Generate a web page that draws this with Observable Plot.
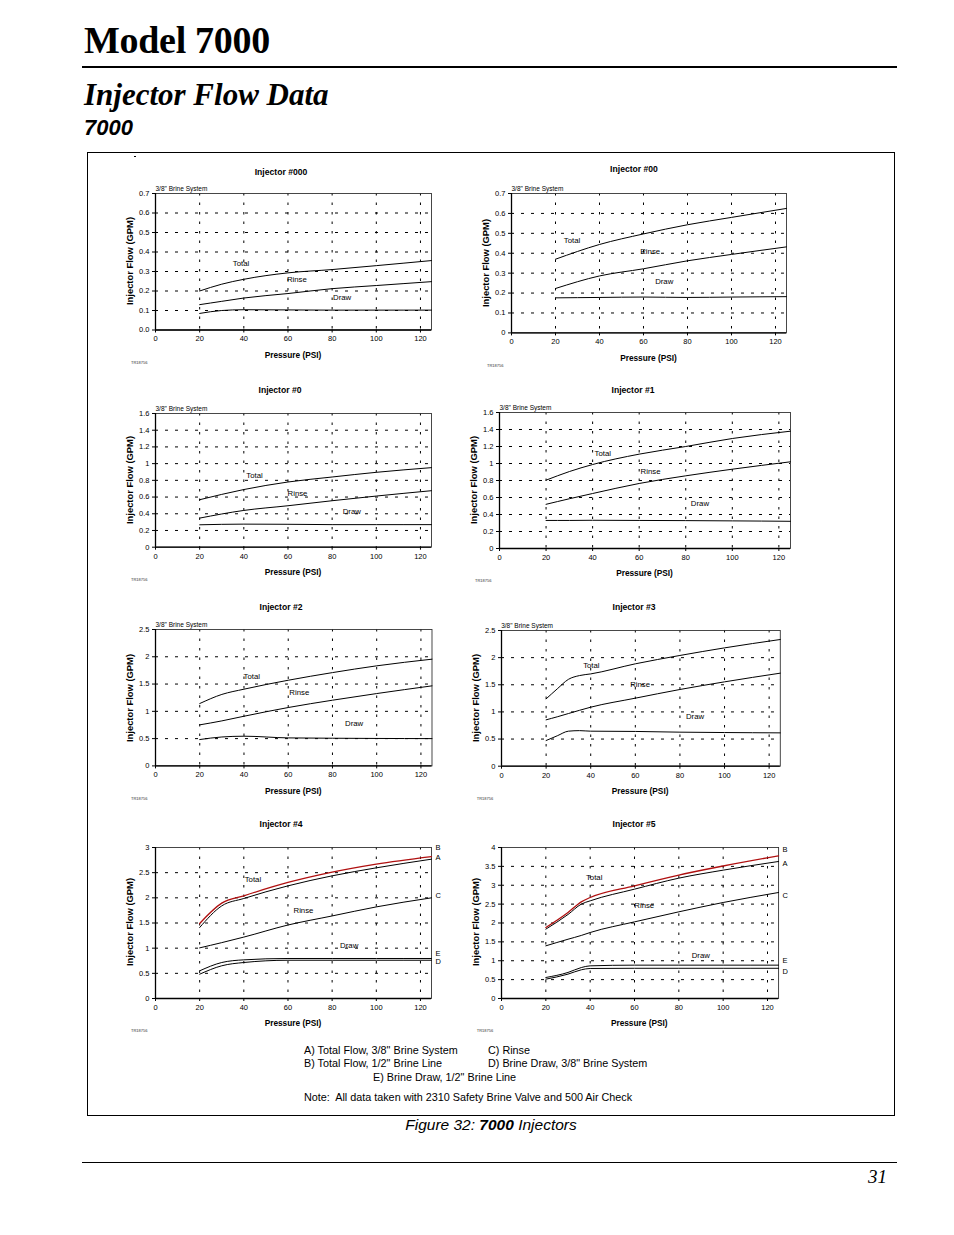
<!DOCTYPE html>
<html><head><meta charset="utf-8">
<script src="https://cdn.jsdelivr.net/npm/d3@7"></script>
<script src="https://cdn.jsdelivr.net/npm/@observablehq/plot@0.6"></script>
<style>
body{margin:0;background:#fff;}
#page{position:relative;width:954px;height:1235px;background:#fff;overflow:hidden;font-family:"Liberation Sans",Arial,sans-serif;color:#000;}
.t{position:absolute;white-space:pre;line-height:1;}
.chart{position:absolute;}
.chart svg{overflow:visible;}
</style></head><body><div id="page"></div>
<script>
// ---------- data ----------
const xTicks = [0, 20, 40, 60, 80, 100, 120];

// Injector #000
const psi000 = [20, 30, 40, 60, 80, 100, 125];
const total000 = [0.200, 0.235, 0.260, 0.293, 0.310, 0.330, 0.356];
const rinse000 = [0.130, 0.147, 0.164, 0.187, 0.212, 0.228, 0.248];
const draw000 = [0.085, 0.100, 0.104, 0.103, 0.102, 0.102, 0.102];
const yTicks000 = [0, 0.1, 0.2, 0.3, 0.4, 0.5, 0.6, 0.7];
const labels000 = [{t: "Total", x: 35, y: 0.34}, {t: "Rinse", x: 59.5, y: 0.257}, {t: "Draw", x: 80.4, y: 0.168}];

// Injector #00
const psi00 = [20, 40, 60, 80, 100, 125];
const total00 = [0.370, 0.444, 0.497, 0.543, 0.580, 0.625];
const rinse00 = [0.223, 0.286, 0.322, 0.362, 0.394, 0.432];
const draw00 = [0.176, 0.178, 0.180, 0.178, 0.180, 0.182];
const yTicks00 = [0, 0.1, 0.2, 0.3, 0.4, 0.5, 0.6, 0.7];
const labels00 = [{t: "Total", x: 23.8, y: 0.466}, {t: "Rinse", x: 58.5, y: 0.407}, {t: "Draw", x: 65.3, y: 0.26}];

// Injector #0
const psi0 = [20, 40, 60, 80, 100, 125];
const total0 = [0.568, 0.690, 0.780, 0.840, 0.896, 0.952];
const rinse0 = [0.348, 0.440, 0.496, 0.556, 0.612, 0.676];
const draw0 = [0.268, 0.276, 0.274, 0.270, 0.270, 0.270];
const yTicks0 = [0, 0.2, 0.4, 0.6, 0.8, 1, 1.2, 1.4, 1.6];
const labels0 = [{t: "Total", x: 41.1, y: 0.86}, {t: "Rinse", x: 59.8, y: 0.64}, {t: "Draw", x: 84.8, y: 0.432}];

// Injector #1
const psi1 = [20, 30, 40, 60, 80, 100, 125];
const total1 = [0.804, 0.905, 0.988, 1.110, 1.200, 1.294, 1.380];
const rinse1 = [0.520, 0.585, 0.647, 0.765, 0.855, 0.933, 1.020];
const draw1 = [0.330, 0.330, 0.332, 0.330, 0.328, 0.325, 0.320];
const yTicks1 = [0, 0.2, 0.4, 0.6, 0.8, 1, 1.2, 1.4, 1.6];
const labels1 = [{t: "Total", x: 40.8, y: 1.118}, {t: "Rinse", x: 60.6, y: 0.91}, {t: "Draw", x: 82.2, y: 0.53}];

// Injector #2
const psi2 = [20, 30, 40, 60, 80, 100, 125];
const total2 = [1.143, 1.310, 1.406, 1.570, 1.710, 1.834, 1.956];
const rinse2 = [0.752, 0.825, 0.910, 1.070, 1.204, 1.326, 1.467];
const draw2 = [0.483, 0.530, 0.544, 0.513, 0.507, 0.503, 0.500];
const yTicks2 = [0, 0.5, 1, 1.5, 2, 2.5];
const labels2 = [{t: "Total", x: 39.8, y: 1.644}, {t: "Rinse", x: 60.5, y: 1.35}, {t: "Draw", x: 85.7, y: 0.776}];

// Injector #3
const psi3 = [20, 25, 30, 35, 40, 60, 80, 100, 125];
const total3 = [1.240, 1.425, 1.600, 1.670, 1.700, 1.886, 2.040, 2.180, 2.334];
const rinse3 = [0.854, 0.910, 0.970, 1.030, 1.087, 1.253, 1.413, 1.554, 1.714];
const draw3 = [0.473, 0.560, 0.645, 0.655, 0.645, 0.640, 0.627, 0.620, 0.614];
const yTicks3 = [0, 0.5, 1, 1.5, 2, 2.5];
const labels3 = [{t: "Total", x: 36.6, y: 1.85}, {t: "Rinse", x: 57.7, y: 1.505}, {t: "Draw", x: 82.7, y: 0.92}];

// Injector #4  (A total 3/8", B total 1/2", C rinse, D draw 3/8", E draw 1/2")
const psi4 = [20, 30, 40, 60, 80, 100, 125];
const totalA4 = [1.410, 1.840, 1.987, 2.238, 2.437, 2.596, 2.768];
const totalB4 = [1.490, 1.894, 2.040, 2.305, 2.510, 2.670, 2.820];
const rinseC4 = [1.006, 1.110, 1.220, 1.460, 1.640, 1.820, 2.000];
const drawD4 = [0.483, 0.650, 0.715, 0.760, 0.760, 0.760, 0.760];
const drawE4 = [0.550, 0.715, 0.768, 0.795, 0.795, 0.795, 0.795];
const yTicks4 = [0, 0.5, 1, 1.5, 2, 2.5, 3];
const labels4 = [{t: "Total", x: 40.4, y: 2.37}, {t: "Rinse", x: 62.5, y: 1.755}, {t: "Draw", x: 83.6, y: 1.053}];
const endLabels4 = [{t: "B", y: 2.99}, {t: "A", y: 2.79}, {t: "C", y: 2.05}, {t: "E", y: 0.90}, {t: "D", y: 0.735}];

// Injector #5
const psi5 = [20, 30, 36, 40, 60, 80, 100, 125];
const totalA5 = [1.837, 2.225, 2.500, 2.587, 2.896, 3.188, 3.400, 3.630];
const totalB5 = [1.880, 2.278, 2.560, 2.675, 2.985, 3.270, 3.510, 3.780];
const rinseC5 = [1.395, 1.570, 1.670, 1.748, 2.030, 2.296, 2.543, 2.808];
const drawD5 = [0.512, 0.645, 0.760, 0.795, 0.800, 0.800, 0.800, 0.800];
const drawE5 = [0.556, 0.690, 0.820, 0.865, 0.883, 0.883, 0.883, 0.883];
const yTicks5 = [0, 0.5, 1, 1.5, 2, 2.5, 3, 3.5, 4];
const labels5 = [{t: "Total", x: 38.1, y: 3.2}, {t: "Rinse", x: 59.9, y: 2.47}, {t: "Draw", x: 85.8, y: 1.15}];
const endLabels5 = [{t: "B", y: 3.95}, {t: "A", y: 3.585}, {t: "C", y: 2.737}, {t: "E", y: 1.015}, {t: "D", y: 0.724}];

const legendLines = [
  ["A) Total Flow, 3/8\" Brine System", "C) Rinse"],
  ["B) Total Flow, 1/2\" Brine Line", "D) Brine Draw, 3/8\" Brine System"],
  ["E) Brine Draw, 1/2\" Brine Line"]
];
const noteText = "Note:  All data taken with 2310 Safety Brine Valve and 500 Air Check";

// ---------- layout ----------
const BLACK = "#000", RED = "#b01010";
const charts = [
  {title: "Injector #000", L: 155, R: 431, T: 193, B: 329.5, tx: 281, ty: 172, yMax: 0.7, yTicks: yTicks000, fmt: d3.format(".1f"), psi: psi000,
   lines: [[total000, BLACK], [rinse000, BLACK], [draw000, BLACK]], labels: labels000, brine: true},
  {title: "Injector #00", L: 511, R: 786, T: 193.3, B: 332.7, tx: 634, ty: 169, yMax: 0.7, yTicks: yTicks00, psi: psi00,
   lines: [[total00, BLACK], [rinse00, BLACK], [draw00, BLACK]], labels: labels00, brine: true},
  {title: "Injector #0", L: 155, R: 431, T: 413, B: 546.7, tx: 280, ty: 390, yMax: 1.6, yTicks: yTicks0, psi: psi0,
   lines: [[total0, BLACK], [rinse0, BLACK], [draw0, BLACK]], labels: labels0, brine: true},
  {title: "Injector #1", L: 499, R: 790, T: 412.3, B: 548.3, tx: 633, ty: 390, yMax: 1.6, yTicks: yTicks1, psi: psi1,
   lines: [[total1, BLACK], [rinse1, BLACK], [draw1, BLACK]], labels: labels1, brine: true},
  {title: "Injector #2", L: 155, R: 431.5, T: 629.3, B: 765.7, tx: 281, ty: 607, yMax: 2.5, yTicks: yTicks2, psi: psi2,
   lines: [[total2, BLACK], [rinse2, BLACK], [draw2, BLACK]], labels: labels2, brine: true},
  {title: "Injector #3", L: 500.7, R: 779.5, T: 630, B: 765.7, tx: 634, ty: 607, yMax: 2.5, yTicks: yTicks3, psi: psi3,
   lines: [[total3, BLACK], [rinse3, BLACK], [draw3, BLACK]], labels: labels3, brine: true},
  {title: "Injector #4", L: 155, R: 431, T: 846.7, B: 997.7, tx: 281, ty: 824, yMax: 3, yTicks: yTicks4, psi: psi4,
   lines: [[totalA4, BLACK], [totalB4, RED], [rinseC4, BLACK], [drawD4, BLACK], [drawE4, BLACK]], labels: labels4, ends: endLabels4},
  {title: "Injector #5", L: 500.7, R: 777.8, T: 846.7, B: 997.7, tx: 634, ty: 824, yMax: 4, yTicks: yTicks5, psi: psi5,
   lines: [[totalA5, BLACK], [totalB5, RED], [rinseC5, BLACK], [drawD5, BLACK], [drawE5, BLACK]], labels: labels5, ends: endLabels5}
];

const page = document.getElementById("page");
function txt(s, x, y, css = {}, anchor = "start", rotate = 0) {
  const d = document.createElement("div");
  d.className = "t";
  d.textContent = s;
  const tx = anchor === "middle" ? "-50%" : anchor === "end" ? "-100%" : "0";
  d.style.left = x + "px";
  d.style.top = y + "px";
  d.style.transform = `translate(${tx},-50%)` + (rotate ? ` rotate(${rotate}deg)` : "");
  Object.assign(d.style, css);
  page.appendChild(d);
  return d;
}
function box(x, y, w, h, css) {
  const d = document.createElement("div");
  d.style.position = "absolute";
  d.style.left = x + "px"; d.style.top = y + "px";
  d.style.width = w + "px"; d.style.height = h + "px";
  Object.assign(d.style, css);
  page.appendChild(d);
  return d;
}

// header
txt("Model 7000", 84, 40, {fontFamily: "'Liberation Serif','Times New Roman',serif", fontWeight: "bold", fontSize: "38px", letterSpacing: "-0.3px"});
box(82, 66, 815, 2, {background: "#000"});
txt("Injector Flow Data", 84, 94, {fontFamily: "'Liberation Serif','Times New Roman',serif", fontWeight: "bold", fontStyle: "italic", fontSize: "31px"});
txt("7000", 84, 128, {fontFamily: "'Liberation Sans Narrow','Liberation Sans',Arial,sans-serif", fontWeight: "bold", fontStyle: "italic", fontSize: "22px"});

// outer frame
box(87, 152, 806, 962, {border: "1px solid #000"});
box(134, 156, 2, 1, {background: "#000"});

// charts
const mL = 40, mR = 22, mT = 30, mB = 30;
for (const c of charts) {
  const W = c.R - c.L, H = c.B - c.T;
  const fmt = c.fmt || (d => String(d));
  const marks = [
    Plot.gridX(xTicks.filter(v => v > 0), {stroke: "#000", strokeOpacity: 1, strokeWidth: 1, strokeDasharray: "2.5,7"}),
    Plot.gridY(c.yTicks.filter(v => v > 0 && v < c.yMax), {stroke: "#000", strokeOpacity: 1, strokeWidth: 1, strokeDasharray: "3,7"}),
    Plot.frame({stroke: "#333", strokeWidth: 0.9}),
    Plot.axisX(xTicks, {tickSize: 3, tickPadding: 3, label: null, fontSize: 7.5}),
    Plot.axisY(c.yTicks, {tickSize: 3, tickPadding: 3, label: null, tickFormat: fmt, fontSize: 7.5}),
    Plot.ruleX([0], {stroke: "#000", strokeWidth: 1.3}),
    Plot.ruleY([0], {stroke: "#000", strokeWidth: 1.3})
  ];
  for (const [vals, col] of c.lines) {
    const rows = c.psi.map((p, i) => ({psi: p, flow: vals[i]}));
    marks.push(Plot.line(rows, {x: "psi", y: "flow", stroke: col, strokeWidth: col === RED ? 1.3 : 1, curve: "monotone-x"}));
  }
  marks.push(Plot.text(c.labels, {x: "x", y: "y", text: "t", textAnchor: "start", lineAnchor: "middle", fontSize: 7.8, fill: "#000"}));
  if (c.ends) marks.push(Plot.text(c.ends, {frameAnchor: "right", y: "y", text: "t", dx: 4, textAnchor: "start", lineAnchor: "middle", fontSize: 7.5, fill: "#000"}));
  const svg = Plot.plot({
    width: W + mL + mR, height: H + mT + mB,
    marginLeft: mL, marginRight: mR, marginTop: mT, marginBottom: mB,
    x: {domain: [0, 125], label: null},
    y: {domain: [0, c.yMax], label: null},
    style: {fontFamily: "'Liberation Sans',Arial,sans-serif", fontSize: "7.5px", color: "#000", background: "transparent", overflow: "visible"},
    marks
  });
  const holder = document.createElement("div");
  holder.className = "chart";
  holder.style.left = (c.L - mL) + "px";
  holder.style.top = (c.T - mT) + "px";
  holder.appendChild(svg);
  page.appendChild(holder);

  txt(c.title, c.tx, c.ty, {fontWeight: "bold", fontSize: "8.6px"}, "middle");
  txt("Pressure (PSI)", (c.L + c.R) / 2, c.B + 25, {fontWeight: "bold", fontSize: "8.3px"}, "middle");
  txt("Injector Flow (GPM)", c.L - 25, (c.T + c.B) / 2, {fontWeight: "bold", fontSize: "9.4px"}, "middle", -90);
  if (c.brine) txt("3/8\" Brine System", c.L + 0.5, c.T - 4, {fontSize: "6.5px"});
  txt("TR18756", c.L - 24, c.B + 33, {fontSize: "4px", color: "#333"});
}

// legend
const lf = {fontSize: "10.8px"};
txt(legendLines[0][0], 304, 1050, lf); txt(legendLines[0][1], 488, 1050, lf);
txt(legendLines[1][0], 304, 1063, lf); txt(legendLines[1][1], 488, 1063, lf);
txt(legendLines[2][0], 373, 1077, lf);
txt(noteText, 304, 1097, lf);

// caption
const cap = txt("", 491, 1125, {fontSize: "15.5px", fontStyle: "italic"}, "middle");
cap.innerHTML = "Figure 32: <b>7000</b> Injectors";

// footer
box(82, 1162, 815, 1, {background: "#000"});
txt("31", 887, 1176, {fontFamily: "'Liberation Serif','Times New Roman',serif", fontStyle: "italic", fontSize: "19px"}, "end");
</script></body></html>
